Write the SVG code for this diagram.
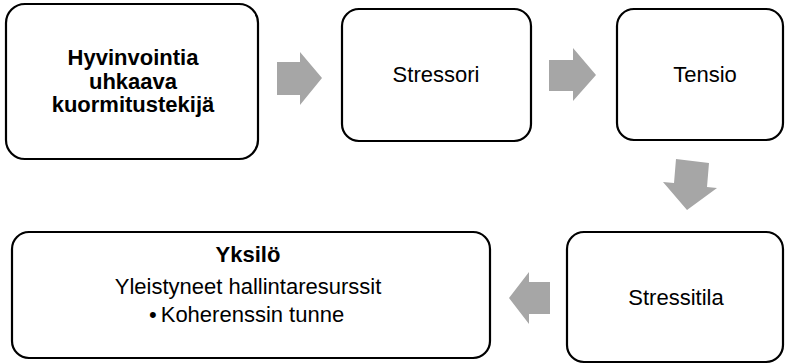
<svg xmlns="http://www.w3.org/2000/svg" width="785" height="364" viewBox="0 0 785 364">
<style>
.box{fill:#ffffff;stroke:#000000;stroke-width:2.2}
.arrow{fill:#a6a6a6;stroke:none}
text{font-family:"Liberation Sans",Arial,sans-serif;font-size:22px;fill:#000000;text-anchor:middle}
.b{font-weight:bold}
</style>
<rect width="785" height="364" fill="#ffffff"/>
<g id="connectors">
<polygon class="arrow" points="277,62 300,62 300,52 322,78 300,105 300,95 277,95"/>
<polygon class="arrow" points="549,60 573,60 573,48 596,75 573,101 573,91 549,91"/>
<polygon class="arrow" points="676,159 709,163 707,187 717,188 687,210 663,182 674,183"/>
<polygon class="arrow" points="550,282 529,282 529,272 509,298 529,324 529,314 550,314"/>
</g>
<g id="node1">
<rect class="box" x="6" y="4" width="252" height="155" rx="19"/>
<text class="b" x="133" y="65">Hyvinvointia</text>
<text class="b" x="133" y="89">uhkaava</text>
<text class="b" x="133" y="112">kuormitustekijä</text>
</g>
<g id="node2">
<rect class="box" x="342" y="9" width="189" height="132" rx="17"/>
<text x="436" y="82">Stressori</text>
</g>
<g id="node3">
<rect class="box" x="617" y="9" width="166" height="131" rx="17"/>
<text x="705" y="82">Tensio</text>
</g>
<g id="node4">
<rect class="box" x="567" y="232" width="216" height="130" rx="17"/>
<text x="676" y="305">Stressitila</text>
</g>
<g id="node5">
<rect class="box" x="12" y="232" width="478" height="126" rx="17"/>
<text class="b" x="248" y="262">Yksilö</text>
<text x="248" y="294">Yleistyneet hallintaresurssit</text>
<text x="149" y="322" style="text-anchor:start">•<tspan dx="4">Koherenssin tunne</tspan></text>
</g>
</svg>
